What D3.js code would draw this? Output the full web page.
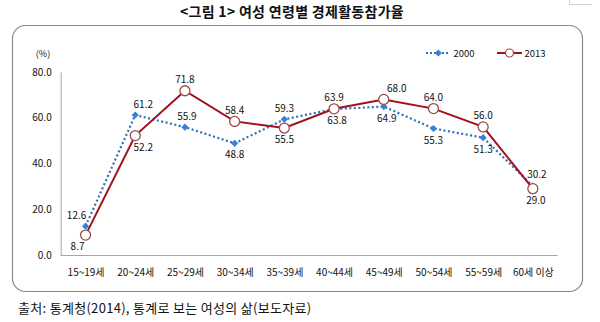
<!DOCTYPE html>
<html>
<head>
<meta charset="utf-8">
<script src="https://cdn.jsdelivr.net/npm/d3@7"></script>
<style>
  html, body { margin: 0; padding: 0; background: #fff; }
  svg { display: block; }
  text { font-family: "Noto Sans CJK KR", "Noto Sans", sans-serif; }
</style>
</head>
<body>
<svg id="chart" width="600" height="322"></svg>
<script>
// ---- data ----
const categories = ["15~19세", "20~24세", "25~29세", "30~34세", "35~39세", "40~44세", "45~49세", "50~54세", "55~59세", "60세 이상"];
const series2000 = [12.6, 61.2, 55.9, 48.8, 59.3, 63.8, 64.9, 55.3, 51.3, 30.2];
const series2013 = [8.7, 52.2, 71.8, 58.4, 55.5, 63.9, 68.0, 64.0, 56.0, 29.0];
const yTicks = [0, 20, 40, 60, 80];
const seriesNames = ["2000", "2013"];
const titleText = "<그림 1> 여성 연령별 경제활동참가율";
const sourceText = "출처: 통계청(2014), 통계로 보는 여성의 삶(보도자료)";
const unitText = "(%)";

// ---- label layout (style) ----
const side2000 = ["up", "up", "up", "down", "up", "down", "down", "down", "down", "up"];
const side2013 = ["down", "down", "up", "up", "down", "up", "up", "up", "up", "down"];
const nudge2000 = [-9, 8, 2, 0, 0, 3, 3, 0, 0, 4];
const nudge2013 = [-8, 8, 0, 0, 0, 0, 13, 0, 0, 3];

const svg = d3.select("#chart");

// outer rounded frame
svg.append("rect")
  .attr("x", 12.5).attr("y", 25.5).attr("width", 570).attr("height", 266)
  .attr("rx", 13).attr("ry", 13)
  .attr("fill", "none").attr("stroke", "#8a8a8a").attr("stroke-width", 1.2);

// tiny corner artifact at top right
svg.append("path").attr("d", "M569.5,0 V4.5 H592")
  .attr("fill", "none").attr("stroke", "#d0d0d0").attr("stroke-width", 1);

// title
svg.append("text").attr("x", 292).attr("y", 17)
  .attr("text-anchor", "middle").attr("font-size", 14).attr("font-weight", 700)
  .attr("letter-spacing", 0.3)
  .attr("fill", "#111").text(titleText);

// source
svg.append("text").attr("x", 18).attr("y", 313)
  .attr("font-size", 13).attr("letter-spacing", 0.3).attr("fill", "#111").text(sourceText);

// scales
const x = d3.scalePoint().domain(categories).range([60.7, 557.7]).padding(0.5);
const y = d3.scaleLinear().domain([0, 80]).range([255, 72]);

// axes
const yAxis = d3.axisLeft(y).tickValues(yTicks).tickSize(0).tickPadding(9).tickFormat(d3.format(".1f"));
const gy = svg.append("g").attr("transform", "translate(60.7,0)").call(yAxis);
gy.select(".domain").attr("stroke", "#a6a6a6");
gy.selectAll("text").attr("font-size", 10).attr("fill", "#111").attr("font-family", "Noto Sans CJK KR, sans-serif");

const xAxis = d3.axisBottom(x).tickSize(0).tickPadding(14);
const gx = svg.append("g").attr("transform", "translate(0,255)").call(xAxis);
gx.select(".domain").attr("stroke", "#a6a6a6").attr("d", "M60.7,0.5H557.7");
gx.selectAll("text").attr("font-size", 10).attr("fill", "#111").attr("font-family", "Noto Sans CJK KR, sans-serif");

// unit label
svg.append("text").attr("x", 43).attr("y", 57)
  .attr("text-anchor", "middle").attr("font-size", 9).attr("fill", "#111").text(unitText);

const line = d3.line().x((d, i) => x(categories[i])).y(d => y(d));

const blue = "#2c6fbd";
const diamondFill = "#3a80d8";
const red = "#a3101e";
const circleStroke = "#9c4a45";

// 2000 series (dotted)
svg.append("path").datum(series2000).attr("d", line)
  .attr("fill", "none").attr("stroke", blue).attr("stroke-width", 2.2)
  .attr("stroke-dasharray", "2,2.5");

// 2013 series (solid)
svg.append("path").datum(series2013).attr("d", line)
  .attr("fill", "none").attr("stroke", red).attr("stroke-width", 2);

const diamond = d3.symbol().type(d3.symbolSquare).size(26);
svg.append("g").selectAll("path").data(series2000).join("path")
  .attr("d", diamond)
  .attr("transform", (d, i) => `translate(${x(categories[i])},${y(d)}) rotate(45)`)
  .attr("fill", diamondFill);

svg.append("g").selectAll("circle").data(series2013).join("circle")
  .attr("cx", (d, i) => x(categories[i])).attr("cy", d => y(d)).attr("r", 5)
  .attr("fill", "#fff").attr("stroke", circleStroke).attr("stroke-width", 1.3);

// data labels
function addLabels(vals, sides, nudges) {
  svg.append("g").selectAll("text").data(vals).join("text")
    .attr("x", (d, i) => x(categories[i]) + nudges[i])
    .attr("y", (d, i) => y(d) + (sides[i] === "up" ? -7.5 : 15))
    .attr("text-anchor", "middle").attr("font-size", 10).attr("fill", "#111")
    .text(d => d3.format(".1f")(d));
}
addLabels(series2000, side2000, nudge2000);
addLabels(series2013, side2013, nudge2013);

// legend
const lg = svg.append("g");
lg.append("line").attr("x1", 426).attr("x2", 450).attr("y1", 53).attr("y2", 53)
  .attr("stroke", blue).attr("stroke-width", 2).attr("stroke-dasharray", "2,2");
lg.append("path").attr("d", diamond).attr("transform", "translate(438.3,53) rotate(45)").attr("fill", diamondFill);
lg.append("text").attr("x", 453.5).attr("y", 56.5).attr("font-size", 9.5).attr("fill", "#111").text(seriesNames[0]);
lg.append("line").attr("x1", 497).attr("x2", 522).attr("y1", 53).attr("y2", 53)
  .attr("stroke", red).attr("stroke-width", 2);
lg.append("circle").attr("cx", 509.5).attr("cy", 53).attr("r", 4)
  .attr("fill", "#fff").attr("stroke", circleStroke).attr("stroke-width", 1.2);
lg.append("text").attr("x", 524.5).attr("y", 56.5).attr("font-size", 9.5).attr("fill", "#111").text(seriesNames[1]);
</script>
</body>
</html>
